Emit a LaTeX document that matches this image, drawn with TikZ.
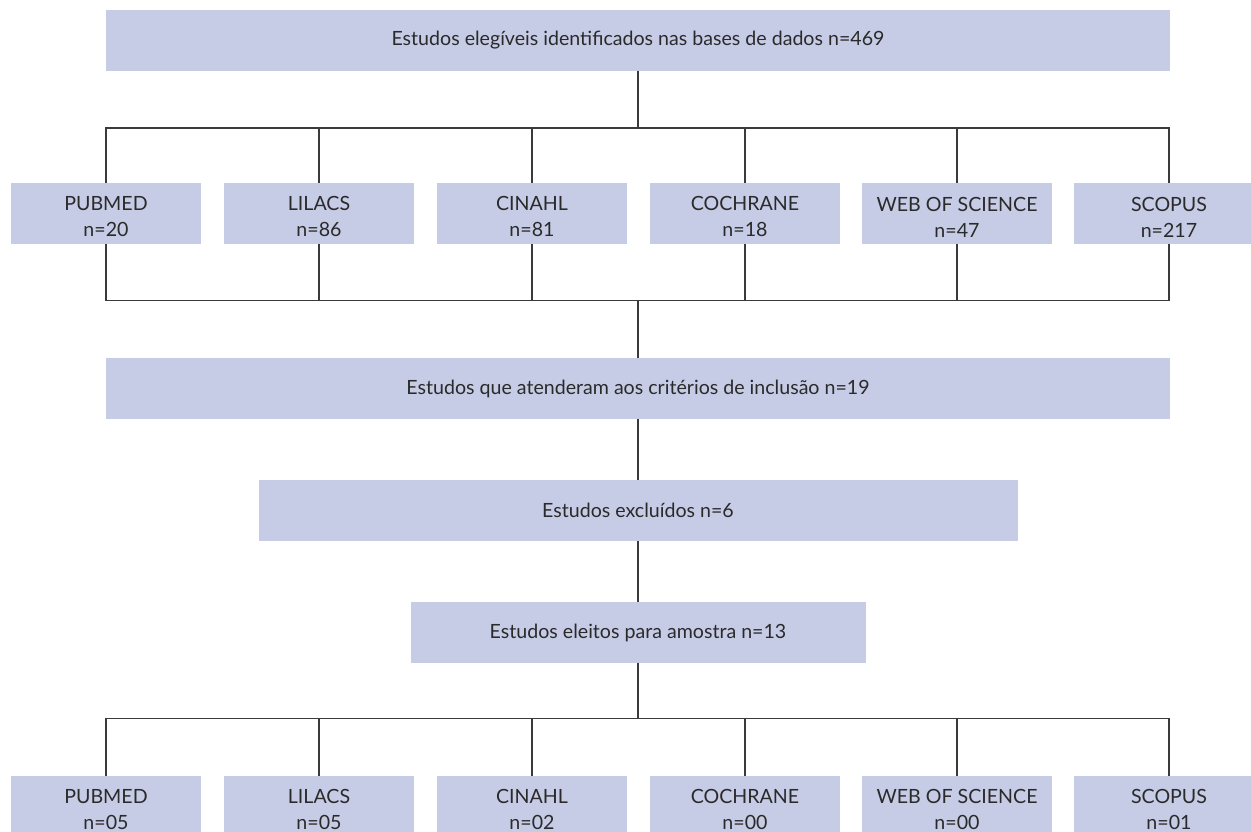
\documentclass[tikz,border=0pt]{standalone}
\usepackage{fontspec}
\setmainfont{Lato}
\definecolor{boxfill}{HTML}{C7CCE6}
\definecolor{txt}{HTML}{2A2A2A}
\definecolor{ln}{HTML}{3A3A3A}
\begin{document}
\begin{tikzpicture}[x=1pt,y=-1pt,
  box/.style={fill=boxfill, draw=none, text=txt, font=\fontsize{19.6}{26}\selectfont, align=center, inner sep=0pt},
  widebox/.style={box, minimum height=61pt},
  dbbox/.style={box, minimum width=190pt, minimum height=61pt, text height=47pt},
  conn/.style={draw=ln, line width=1.6pt}]
\useasboundingbox (0,0) rectangle (1251,831);
\clip (0,0) rectangle (1251,831);
% main chain
\node[widebox, minimum width=1064pt] (top) at (638,40) {Estudos elegíveis identificados nas bases de dados n=469};
\node[widebox, minimum width=1064pt] (inc) at (638,388.5) {Estudos que atenderam aos critérios de inclusão n=19};
\node[widebox, minimum width=759pt] (exc) at (638,510.5) {Estudos excluídos n=6};
\node[widebox, minimum width=455pt] (sel) at (638,632.5) {Estudos eleitos para amostra n=13};
% first row of databases
\node[dbbox] (a1) at (106,213.5) {PUBMED\\n=20};
\node[dbbox] (a2) at (319,213.5) {LILACS\\n=86};
\node[dbbox] (a3) at (532,213.5) {CINAHL\\n=81};
\node[dbbox] (a4) at (745,213.5) {COCHRANE\\n=18};
\node[dbbox] (a5) at (957,213.5) {WEB OF SCIENCE\\n=47};
\node[dbbox] (a6) at (1169,213.5) {SCOPUS\\n=217};
% last row of databases
\node[dbbox] (b1) at (106,806.5) {PUBMED\\n=05};
\node[dbbox] (b2) at (319,806.5) {LILACS\\n=05};
\node[dbbox] (b3) at (532,806.5) {CINAHL\\n=02};
\node[dbbox] (b4) at (745,806.5) {COCHRANE\\n=00};
\node[dbbox] (b5) at (957,806.5) {WEB OF SCIENCE\\n=00};
\node[dbbox] (b6) at (1169,806.5) {SCOPUS\\n=01};
% junctions
\coordinate (bus1) at (638,128);
\coordinate (bus2) at (638,300.5);
\coordinate (bus3) at (638,718.5);
% connectors
\draw[conn] (top) -- (bus1);
\draw[conn, line cap=rect] (a1 |- bus1) -- (a6 |- bus1);
\draw[conn, line cap=rect] (a1 |- bus2) -- (a6 |- bus2);
\foreach \n in {a1,a2,a3,a4,a5,a6}{
  \draw[conn] (\n |- bus1) -- (\n);
  \draw[conn] (\n) -- (\n |- bus2);
}
\draw[conn] (bus2) -- (inc);
\draw[conn] (inc) -- (exc);
\draw[conn] (exc) -- (sel);
\draw[conn] (sel) -- (bus3);
\draw[conn, line cap=rect] (b1 |- bus3) -- (b6 |- bus3);
\foreach \n in {b1,b2,b3,b4,b5,b6}{
  \draw[conn] (\n |- bus3) -- (\n);
}
\end{tikzpicture}
\end{document}
